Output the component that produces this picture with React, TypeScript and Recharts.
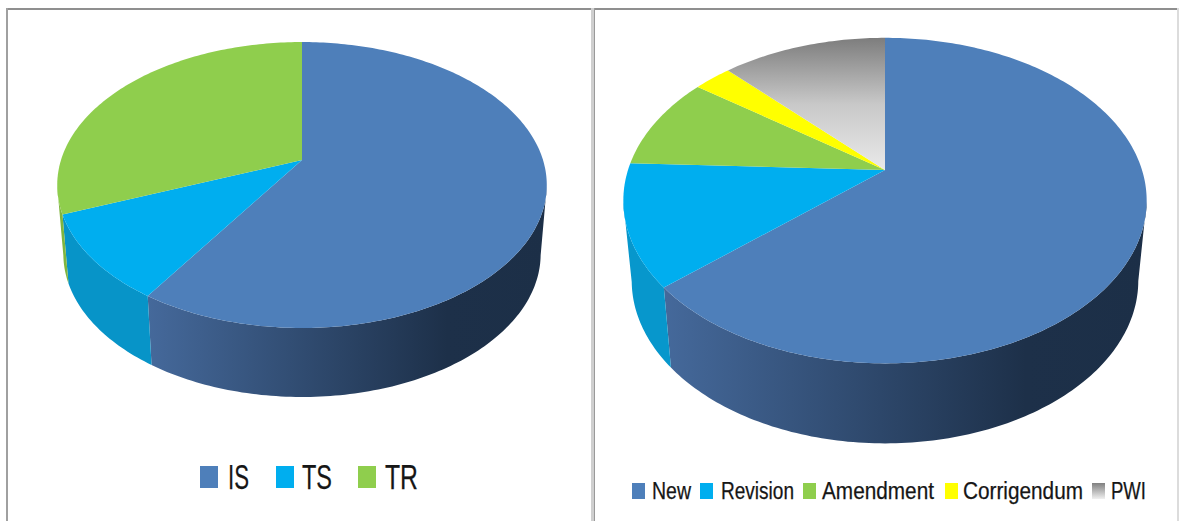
import { PieChart, Pie, Legend } from 'recharts';

// left pie: document types
const typeNames = ['IS', 'TS', 'TR'];
const typeValues = [59.2, 9.8, 31];
const typeTop = ['#4e7fba', '#00aeef', '#8fce4d'];
const typeWall = ['url(#wallBlueA)', '#0794c8', '#7fb53f'];
const typeKey = ['#4e7fba', '#00aeef', '#8fce4d'];

// right pie: kinds of work
const kindNames = ['New', 'Revision', 'Amendment', 'Corrigendum', 'PWI'];
const kindValues = [63.6, 12.1, 9.3, 2.8, 12.2];
const kindTop = ['#4e7fba', '#00aeef', '#8fce4d', '#ffff00', 'url(#pwiGrey)'];
const kindWall = ['url(#wallBlueB)', '#0797cc', '#7fb53f', '#d8d800', '#9a9a9a'];
const kindKey = ['#4e7fba', '#00aeef', '#8fce4d', '#ffff00', 'linear-gradient(#808080, #f0f0f0)'];

const toRows = (names: string[], values: number[], top: string[], wall: string[]) =>
  names.map((name, i) => ({ name, value: values[i], fill: top[i], wall: wall[i] }));

type Tilt = { squash: number; lean: number; depth: number; shrink: number };

// circle seen in perspective, the pivot sits above the middle of the ellipse
const project = (p: any, tilt: Tilt, deg: number) => {
  const t = ((90 - deg) * Math.PI) / 180;
  const X = Math.sin(t);
  const Y = -Math.cos(t);
  const w = 1 + tilt.lean * Y;
  return {
    x: p.cx + (p.outerRadius * X) / w,
    y: p.cy + (p.outerRadius * tilt.squash * Y) / w,
    Y,
  };
};

const arcPoints = (p: any, tilt: Tilt) => {
  const steps = Math.max(4, Math.ceil(Math.abs(p.endAngle - p.startAngle)));
  const pts = [];
  for (let i = 0; i <= steps; i++) {
    pts.push(project(p, tilt, p.startAngle + ((p.endAngle - p.startAngle) * i) / steps));
  }
  return pts;
};

const topShape = (tilt: Tilt) => (p: any) => {
  const pts = arcPoints(p, tilt);
  const d = `M${p.cx},${p.cy} ` + pts.map((q) => `L${q.x},${q.y}`).join(' ') + ' Z';
  return <path d={d} fill={p.payload.fill} />;
};

const wallShape = (tilt: Tilt) => (p: any) => {
  // only the front of the rim can be seen
  const pts = arcPoints(p, tilt).filter((q) => q.Y >= -tilt.lean);
  if (pts.length < 2) return <g />;
  const low = pts
    .slice()
    .reverse()
    .map((q) => ({ x: p.cx + (q.x - p.cx) * tilt.shrink, y: q.y + tilt.depth }));
  const d = 'M' + [...pts, ...low].map((q) => `${q.x},${q.y}`).join(' L') + ' Z';
  return <path d={d} fill={p.payload.wall} />;
};

// legend with condensed labels, the source font is narrower than anything installed
function KeyRow({ names, colors, spots, textSpots, widths, size, box, baseline }: any) {
  return (
    <div style={{ position: 'relative', height: 40 }}>
      {names.map((name: string, i: number) => (
        <div key={name}>
          <div style={{ position: 'absolute', left: spots[i], top: 0, width: box[0], height: box[1], background: colors[i] }} />
          <svg style={{ position: 'absolute', left: textSpots[i], top: 0, overflow: 'visible' }} width={widths[i]} height={40}>
            <text
              x={0}
              y={baseline}
              fontFamily="Liberation Sans, sans-serif"
              fontSize={size}
              fill="#161616"
              stroke="#161616"
              strokeWidth={0.25}
              textLength={widths[i]}
              lengthAdjust="spacingAndGlyphs"
            >
              {name}
            </text>
          </svg>
        </div>
      ))}
    </div>
  );
}

const typeTilt: Tilt = { squash: 0.575, lean: -0.175, depth: 69, shrink: 0.975 };
const kindTilt: Tilt = { squash: 0.611, lean: -0.188, depth: 80, shrink: 0.968 };
const noMargin = { top: 0, right: 0, bottom: 0, left: 0 };

export default function App() {
  return (
    <div style={{ position: 'absolute', left: 0, top: 0, width: 1179, height: 521, overflow: 'hidden', background: '#fff' }}>
      <div style={{ position: 'absolute', left: 6, top: 8, width: 1173, height: 2, background: '#8f8f8f' }} />
      <div style={{ position: 'absolute', left: 6, top: 8, width: 2, height: 513, background: '#a0a0a0' }} />
      <div style={{ position: 'absolute', left: 591, top: 8, width: 3, height: 513, background: '#cfcfcf' }} />
      <div style={{ position: 'absolute', left: 594, top: 8, width: 1, height: 513, background: '#9a9a9a' }} />
      <div style={{ position: 'absolute', left: 1177, top: 8, width: 2, height: 513, background: '#dcdcdc' }} />

      <div style={{ position: 'absolute', left: 0, top: 0 }}>
        <PieChart width={590} height={521} margin={noMargin}>
          <defs>
            <linearGradient id="wallBlueA" x1="0" y1="0" x2="1" y2="0">
              <stop offset="0" stopColor="#45699b" />
              <stop offset="0.75" stopColor="#1d3049" />
              <stop offset="1" stopColor="#1c2f47" />
            </linearGradient>
          </defs>
          <Pie
            data={toRows(typeNames, typeValues, typeTop, typeWall)}
            dataKey="value"
            nameKey="name"
            cx={302}
            cy={160}
            outerRadius={241}
            startAngle={90}
            endAngle={-270}
            stroke="none"
            legendType="none"
            shape={wallShape(typeTilt)}
            isAnimationActive={false}
          />
          <Pie
            data={toRows(typeNames, typeValues, typeTop, typeWall)}
            dataKey="value"
            nameKey="name"
            cx={302}
            cy={160}
            outerRadius={241}
            startAngle={90}
            endAngle={-270}
            stroke="none"
            shape={topShape(typeTilt)}
            isAnimationActive={false}
          />
          <Legend
            content={() => (
              <KeyRow names={typeNames} colors={typeKey} spots={[200, 276, 358]} textSpots={[228, 302, 385]} widths={[21, 30, 33]} size={35} box={[18, 22]} baseline={23} />
            )}
            wrapperStyle={{ position: 'absolute', left: 0, top: 466, width: 590 }}
          />
        </PieChart>
      </div>

      <div style={{ position: 'absolute', left: 590, top: 0 }}>
        <PieChart width={589} height={521} margin={noMargin}>
          <defs>
            <linearGradient id="wallBlueB" x1="0" y1="0" x2="1" y2="0">
              <stop offset="0" stopColor="#45699b" />
              <stop offset="0.75" stopColor="#1d3049" />
              <stop offset="1" stopColor="#1c2f47" />
            </linearGradient>
            <linearGradient id="pwiGrey" x1="0" y1="0" x2="0" y2="1">
              <stop offset="0" stopColor="#7d7d7d" />
              <stop offset="0.5" stopColor="#c8c8c8" />
              <stop offset="1" stopColor="#e9e9e9" />
            </linearGradient>
          </defs>
          <Pie
            data={toRows(kindNames, kindValues, kindTop, kindWall)}
            dataKey="value"
            nameKey="name"
            cx={295}
            cy={170}
            outerRadius={257}
            startAngle={90}
            endAngle={-270}
            stroke="none"
            legendType="none"
            shape={wallShape(kindTilt)}
            isAnimationActive={false}
          />
          <Pie
            data={toRows(kindNames, kindValues, kindTop, kindWall)}
            dataKey="value"
            nameKey="name"
            cx={295}
            cy={170}
            outerRadius={257}
            startAngle={90}
            endAngle={-270}
            stroke="none"
            shape={topShape(kindTilt)}
            isAnimationActive={false}
          />
          <Legend
            content={() => (
              <KeyRow names={kindNames} colors={kindKey} spots={[42, 110, 213, 355, 502]} textSpots={[62, 131, 232, 373, 521]} widths={[39, 73, 112, 120, 35]} size={23} box={[13, 16]} baseline={16} />
            )}
            wrapperStyle={{ position: 'absolute', left: 0, top: 483, width: 589 }}
          />
        </PieChart>
      </div>
    </div>
  );
}
